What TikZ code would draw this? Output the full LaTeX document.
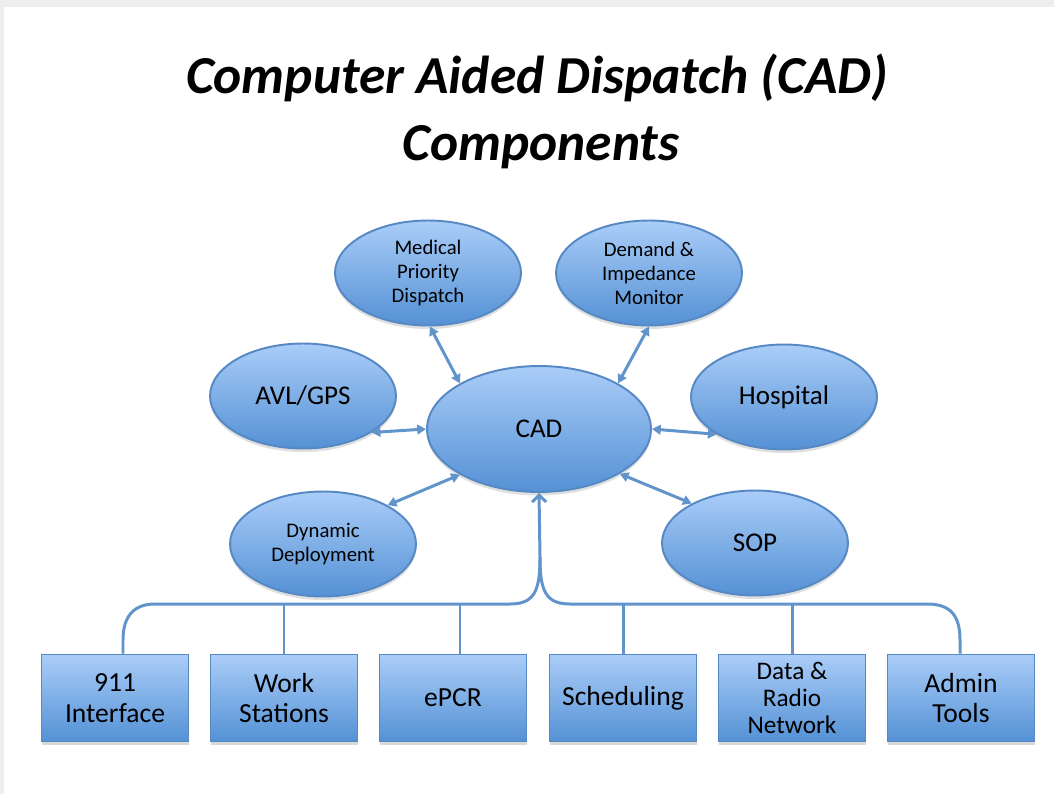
\documentclass[tikz,border=0pt]{standalone}
\usepackage{fontspec}
\setmainfont{Carlito}
\usetikzlibrary{shapes.geometric,arrows.meta,shadows,calc}
\definecolor{topc}{RGB}{170,205,248}
\definecolor{botc}{RGB}{84,145,213}
\definecolor{edgec}{RGB}{86,136,196}
\definecolor{linec}{RGB}{98,148,204}
\definecolor{pagebg}{RGB}{238,238,238}
\begin{document}
\begin{tikzpicture}[x=0.02cm,y=-0.02cm,
  blob/.style={ellipse, draw=edgec, line width=1.1pt, top color=topc, bottom color=botc,
    inner sep=0pt, minimum width=3.72cm, minimum height=2.1cm, align=center,
    drop shadow={opacity=0.25, shadow xshift=0pt, shadow yshift=-2pt}},
  small/.style={font=\fontsize{11.8}{13.7}\selectfont},
  big/.style={font=\fontsize{15.4}{18}\selectfont},
  boxc/.style={rectangle, draw=edgec, line width=1.1pt, top color=topc, bottom color=botc,
    inner sep=0pt, minimum width=2.94cm, minimum height=1.74cm, align=center,
    font=\fontsize{15.7}{17.6}\selectfont,
    drop shadow={opacity=0.3, shadow xshift=0.5pt, shadow yshift=-2pt}},
  conn/.style={draw=linec, line width=1.7pt},
  dbl/.style={conn, {Triangle[length=5pt,width=5.5pt]}-{Triangle[length=5pt,width=5.5pt]}},
  titlef/.style={font=\fontsize{30.4}{36}\selectfont\bfseries\itshape, anchor=base}
]
\useasboundingbox (0,0) rectangle (1054,794);
\fill[pagebg] (0,0) rectangle (1054,794);
\fill[white] (4,7) rectangle (1054,794);

% title
\node[titlef] (t1) at (537,93) {Computer Aided Dispatch (CAD)};
\node[titlef] (t2) at (541,160) {Components};

% ellipses
\node[blob, minimum width=4.48cm, minimum height=2.52cm, big] (cad) at (539,429) {CAD};
\node[blob, small] (med) at (428,273) {Medical\\Priority\\Dispatch};
\node[blob, small] (dem) at (649,273) {Demand \&\\Impedance\\Monitor};
\node[blob, big] (avl) at (303,396) {AVL/GPS};
\node[blob, big] (hos) at (784,397) {Hospital};
\node[blob, small] (dyn) at (323,544) {Dynamic\\Deployment};
\node[blob, big] (sop) at (755,543) {SOP};

% connectors to CAD
\draw[dbl] (med.-88) -- (cad.150);
\draw[dbl] (dem.-90) -- (cad.30);
\draw[dbl] (avl.-28) -- (cad.180);
\draw[dbl] (hos.209) -- (cad.0);
\draw[dbl] (dyn.31) -- (cad.210);
\draw[dbl] (sop.148) -- (cad.-29);

% boxes
\node[boxc] (b1) at (115,698) {911\\Interface};
\node[boxc] (b2) at (284,698) {Work\\Stations};
\node[boxc] (b3) at (453,698) {ePCR};
\node[boxc] (b4) at (623,698) {Scheduling};
\node[boxc, font=\fontsize{14.4}{15.4}\selectfont] (b5) at (792,698) {Data \&\\Radio\\Network};
\node[boxc] (b6) at (961,698) {Admin\\Tools};

% tree
\coordinate (hub) at (540,557);
\coordinate (bus) at (540,604);
\draw[conn] ([xshift=0.16cm]b1.north) -- (123,640) .. controls (123,615) and (135,604) .. (155,604)
  -- (510,604) .. controls (535,604) and (540,590) .. (hub);
\draw[conn] (hub) .. controls (540,590) and (545,604) .. (570,604)
  -- (927,604) .. controls (950,604) and (960,615) .. (960,640) -- ([xshift=-0.02cm]b6.north);
\draw[conn, -{Straight Barb[length=4pt,width=8pt]}] (hub) -- (cad.south);
\draw[conn] (b2.north) -- (b2.north |- bus);
\draw[conn] ([xshift=0.14cm]b3.north) -- ([xshift=0.14cm]b3.north |- bus);
\draw[conn] (b4.north) -- (b4.north |- bus);
\draw[conn] (b5.north) -- (b5.north |- bus);
\end{tikzpicture}
\end{document}
